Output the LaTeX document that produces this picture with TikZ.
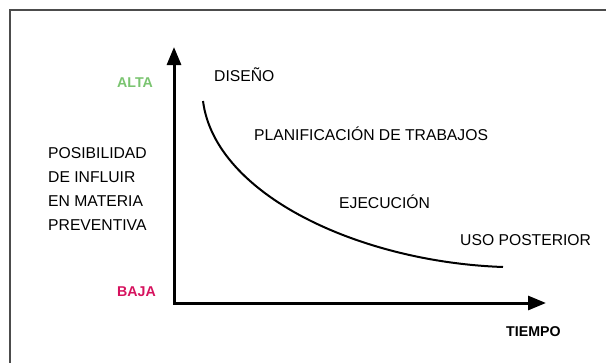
\documentclass[tikz,border=0pt]{standalone}
\usepackage{xcolor}
\usepackage{fontspec}
\setmainfont{Liberation Sans}
\usepackage{tikz}
\usetikzlibrary{arrows.meta}
\usetikzlibrary{positioning}
\definecolor{verdealta}{RGB}{122,196,112}
\definecolor{rojobaja}{RGB}{214,18,94}
\tikzstyle{fase}=[anchor=base west,inner sep=0pt,font=\fontsize{15.7}{24}\selectfont]
\tikzstyle{nivel}=[anchor=base west,inner sep=0pt,font=\fontsize{14.2}{18}\selectfont\bfseries]
\tikzstyle{eje}=[{Triangle[length=18pt,width=14pt]}-{Triangle[length=18pt,width=14pt]},line width=3pt,line join=miter]
\tikzstyle{curva}=[line width=2pt]
\tikzstyle{marco}=[draw=black!70,line width=2pt]

\begin{document}
\begin{tikzpicture}[x=1pt,y=-1pt]
\useasboundingbox (0,0) rectangle (606,362);
\draw[marco] (9.5,370) -- (9.5,9.5) -- (620,9.5);
\coordinate (o) at (174,303);
\coordinate (ytop) at (174,47);
\coordinate (xend) at (546,303);
\coordinate (c0) at (203,101);
\coordinate (c1) at (503,267);
\node[nivel,text=verdealta] (alta) at (117,87) {ALTA};
\node[nivel,text=rojobaja] (baja) at (117,296) {BAJA};
\node[nivel] (tiempo) at (506,336) {TIEMPO};
\node[fase,align=left,anchor=north west] (posib) at (48,147.3) {POSIBILIDAD\\DE INFLUIR\\EN MATERIA\\PREVENTIVA};
\node[fase] (diseno) at (214,81) {DISEÑO};
\node[fase] (planif) at (254,140) {PLANIFICACIÓN DE TRABAJOS};
\node[fase] (ejec) at (339,208) {EJECUCIÓN};
\node[fase] (uso) at (460,245) {USO POSTERIOR};
%Ejes y curva
\draw[eje] (ytop) -- (o) -- (xend);
\draw[curva] (c0) .. controls (215,195) and (360,262) .. (c1);
\end{tikzpicture}
\end{document}
